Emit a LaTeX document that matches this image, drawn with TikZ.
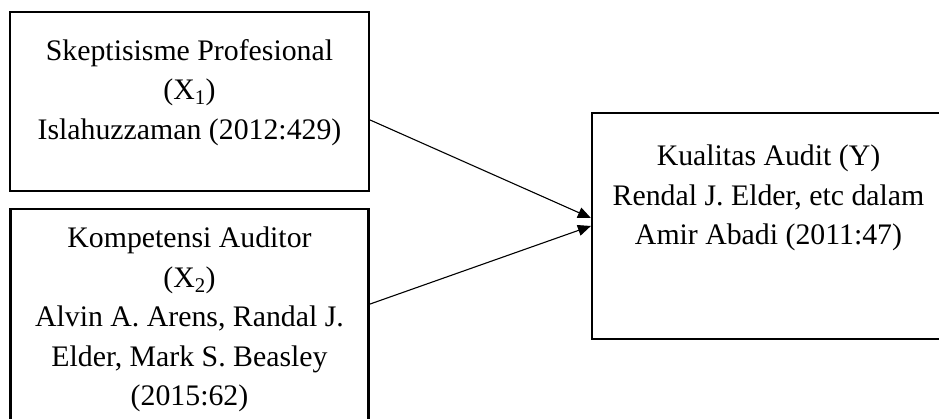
\documentclass[tikz,border=0pt]{standalone}
\usepackage{fontspec}
\setmainfont{Liberation Serif}
\usetikzlibrary{arrows.meta, positioning}

\begin{document}
\begin{tikzpicture}[x=1pt,y=1pt,>={Triangle[length=13pt,width=11pt]},
  box/.style={draw, line width=2.2pt, inner sep=0pt},
  words/.style={align=center, inner sep=0pt, font=\fontsize{29.8}{39.5}\selectfont},
  link/.style={line width=1.1pt}]

 \useasboundingbox (0,0) rectangle (939,419);
 \clip (0,0) rectangle (939,419);

% define the boxes
  \node[box, minimum width=359pt, minimum height=179pt] (box1) at (189.5,317.5) {};
  \node[box, minimum width=358pt, minimum height=218pt] (box2) [below=16pt of box1] {};
  \node[box, minimum width=353pt, minimum height=226pt] (box3) at (768.5,193) {};

% define the texts
  \node[words] (x1) [below=28pt of box1.north]
{Skeptisisme Profesional\\(X\textsubscript{1})\\Islahuzzaman (2012:429)};
  \node[words] (x2) [below=19pt of box2.north]
{Kompetensi Auditor\\(X\textsubscript{2})\\Alvin A. Arens, Randal J.\\Elder, Mark S. Beasley\\(2015:62)};
  \node[words] (y) [below=33pt of box3.north]
{Kualitas Audit (Y)\\Rendal J. Elder, etc dalam\\Amir Abadi (2011:47)};

% define the links
  \path[->, link] ([yshift=-18.5pt]box1.east) edge ([yshift=8pt]box3.west)
        ([yshift=14pt]box2.east) edge (box3.west);

\end{tikzpicture}
\end{document}
